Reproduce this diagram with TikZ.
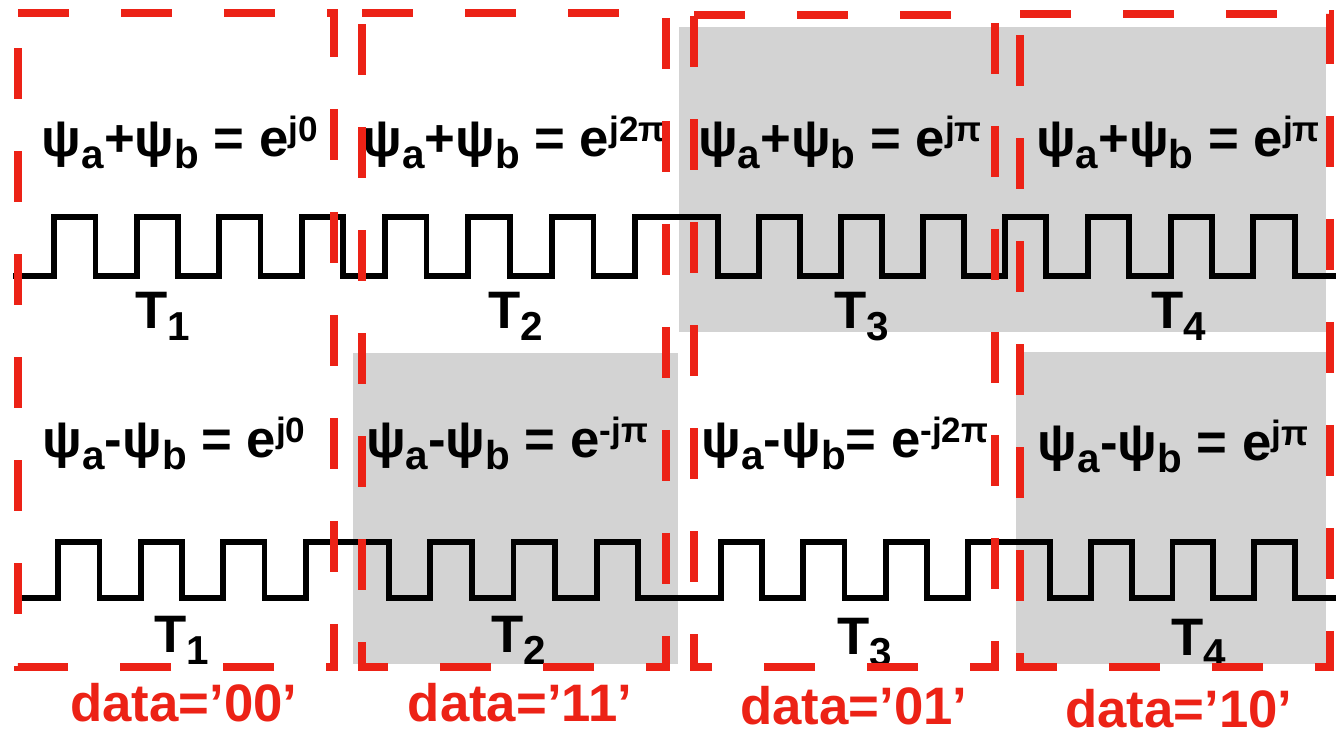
\documentclass[tikz,border=0pt]{standalone}
\usepackage{fontspec}
\setmainfont{Liberation Sans}
\usepackage{tikz}
\definecolor{boxred}{RGB}{236,34,22}
\definecolor{cellgray}{RGB}{211,211,211}
\newcommand{\psub}[1]{\raisebox{-0.22em}{\fontsize{11.5}{12}\selectfont #1}}
\newcommand{\psup}[1]{\raisebox{0.3em}{\fontsize{10}{12}\selectfont #1}}

\begin{document}
\begin{tikzpicture}[font=\fontsize{15}{18}\selectfont\bfseries,
  eq/.style={anchor=base, inner sep=0pt},
  wave/.style={line width=1.7pt, line join=miter},
  databox/.style={boxred, line width=0.08cm, dash pattern=on 0.51cm off 0.52cm}]
\useasboundingbox (0,0) rectangle (13.36,7.34);
\fill[cellgray] (6.79,4.02) rectangle (13.26,7.07);
\fill[cellgray] (3.53,0.70) rectangle (6.78,3.81);
\fill[cellgray] (10.16,0.70) rectangle (13.26,3.82);
\draw[wave] (0.13,4.58)
  \foreach \p in {0,...,3} {|- ({0.13+(2*\p+1)*0.4125},4.58) |- ({0.13+(2*\p+2)*0.4125},5.17)}
  \foreach \p in {0,...,3} {|- ({3.43+(2*\p+1)*0.4175},4.58) |- ({3.43+(2*\p+2)*0.4175},5.17)}
  \foreach \p in {0,...,3} {|- ({6.77+(2*\p+1)*0.41},5.17) |- ({6.77+(2*\p+2)*0.41},4.58)}
  \foreach \p in {0,...,3} {|- ({10.05+(2*\p+1)*0.41375},5.17) |- ({10.05+(2*\p+2)*0.41375},4.58)};
\draw[wave] (0.17,1.36)
  \foreach \p in {0,...,3} {|- ({0.17+(2*\p+1)*0.4125},1.36) |- ({0.17+(2*\p+2)*0.4125},1.92)}
  \foreach \p in {0,...,3} {|- ({3.47+(2*\p+1)*0.41625},1.92) |- ({3.47+(2*\p+2)*0.41625},1.36)}
  \foreach \p in {0,...,3} {|- ({6.80+(2*\p+1)*0.41125},1.36) |- ({6.80+(2*\p+2)*0.41125},1.92)}
  \foreach \p in {0,...,3} {|- ({10.09+(2*\p+1)*0.40875},1.92) |- ({10.09+(2*\p+2)*0.40875},1.36)};
\node[eq] (sum1) at (1.80,5.77) {ψ\psub{a}+ψ\psub{b} = e\psup{j0}};
\node[eq] (sum2) at (5.14,5.77) {ψ\psub{a}+ψ\psub{b} = e\psup{j2π}};
\node[eq] (sum3) at (8.40,5.77) {ψ\psub{a}+ψ\psub{b} = e\psup{jπ}};
\node[eq] (sum4) at (11.78,5.77) {ψ\psub{a}+ψ\psub{b} = e\psup{jπ}};
\node[eq] (tsum1) at (1.63,4.05) {T\psub{1}};
\node[eq] (tsum2) at (5.16,4.05) {T\psub{2}};
\node[eq] (tsum3) at (8.62,4.05) {T\psub{3}};
\node[eq] (tsum4) at (11.79,4.05) {T\psub{4}};
\node[eq] (diff1) at (1.74,2.76) {ψ\psub{a}-ψ\psub{b} = e\psup{j0}};
\node[eq] (diff2) at (5.07,2.76) {ψ\psub{a}-ψ\psub{b} = e\psup{-jπ}};
\node[eq] (diff3) at (8.45,2.76) {ψ\psub{a}-ψ\psub{b}= e\psup{-j2π}};
\node[eq] (diff4) at (11.73,2.73) {ψ\psub{a}-ψ\psub{b} = e\psup{jπ}};
\node[eq] (tdiff1) at (1.82,0.81) {T\psub{1}};
\node[eq] (tdiff2) at (5.19,0.81) {T\psub{2}};
\node[eq] (tdiff3) at (8.65,0.79) {T\psub{3}};
\node[eq] (tdiff4) at (11.99,0.78) {T\psub{4}};
\draw[databox] (0.18,7.21) -- (3.34,7.21) -- (3.34,0.67) -- (0.18,0.67) -- cycle;
\draw[databox] (3.62,7.21) -- (6.66,7.21) -- (6.66,0.67) -- (3.62,0.67) -- cycle;
\draw[databox] (6.94,7.19) -- (9.95,7.19) -- (9.95,0.67) -- (6.94,0.67) -- cycle;
\draw[databox] (10.20,7.20) -- (13.30,7.20) -- (13.30,0.67) -- (10.20,0.67) -- cycle;
\node[eq, text=boxred] (data1) at (1.84,0.12) {data=’00’};
\node[eq, text=boxred] (data2) at (5.20,0.12) {data=’11’};
\node[eq, text=boxred] (data3) at (8.54,0.09) {data=’01’};
\node[eq, text=boxred] (data4) at (11.79,0.06) {data=’10’};
\end{tikzpicture}
\end{document}
